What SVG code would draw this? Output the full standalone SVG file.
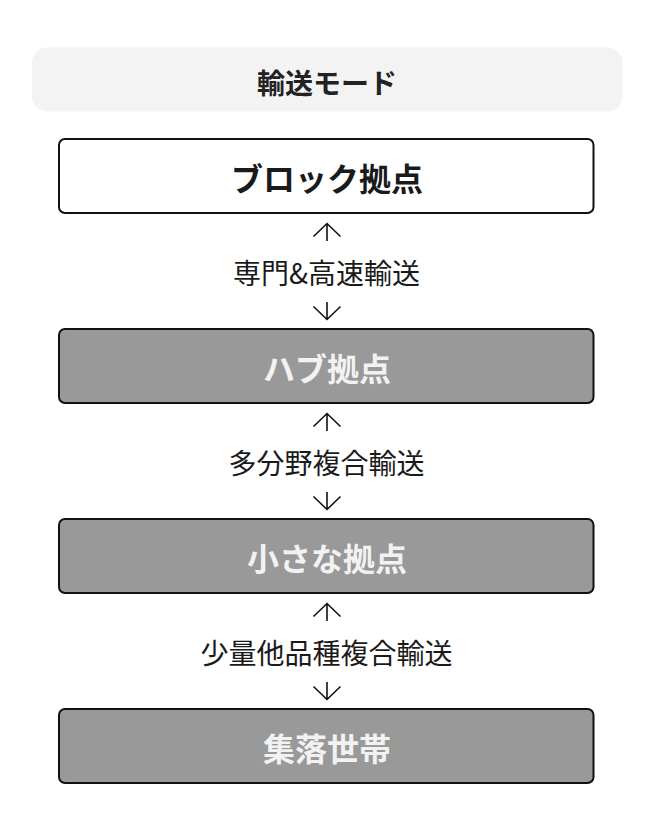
<svg xmlns="http://www.w3.org/2000/svg" width="654" height="818" viewBox="0 0 654 818">
<style>
text{font-family:"Noto Sans CJK JP","Noto Sans",sans-serif;text-anchor:middle;dominant-baseline:central}
.hdr{font-size:28px;font-weight:700;fill:#222}
.ttl{font-size:32px;font-weight:700}
.box{stroke:#111;stroke-width:2}
.white{fill:#ffffff}
.gray{fill:#999999}
.dark{fill:#1a1a1a}
.light{fill:#f2f2f2}
.lbl{font-size:28px;font-weight:400;fill:#1a1a1a}
.arr{fill:none;stroke:#111;stroke-width:1.6}
</style>
<rect width="654" height="818" fill="#ffffff"/>
<g id="header">
<rect x="32" y="47.5" width="590.5" height="64" rx="15" fill="#f3f3f3"/>
<text class="hdr" x="327" y="82">輸送モード</text>
</g>
<g id="node-block">
<rect class="box white" x="59" y="139" width="534.5" height="74" rx="6"/>
<text class="ttl dark" x="327" y="176.5">ブロック拠点</text>
</g>
<g id="node-hub">
<rect class="box gray" x="59" y="329" width="534.5" height="74" rx="6"/>
<text class="ttl light" x="327" y="366.5">ハブ拠点</text>
</g>
<g id="node-small">
<rect class="box gray" x="59" y="519" width="534.5" height="74" rx="6"/>
<text class="ttl light" x="327" y="556.5">小さな拠点</text>
</g>
<g id="node-village">
<rect class="box gray" x="59" y="709" width="534.5" height="74" rx="6"/>
<text class="ttl light" x="327" y="746.5">集落世帯</text>
</g>
<g id="connectors">
<path class="arr" d="M327 241V224M313.5 236.5L327 223.5L340.5 236.5"/>
<path class="arr" d="M327 302V319M313.5 306.5L327 319.5L340.5 306.5"/>
<text class="lbl" x="326.5" y="271.5">専門&amp;高速輸送</text>
<path class="arr" d="M327 431V414M313.5 426.5L327 413.5L340.5 426.5"/>
<path class="arr" d="M327 492V509M313.5 496.5L327 509.5L340.5 496.5"/>
<text class="lbl" x="326.5" y="461.5">多分野複合輸送</text>
<path class="arr" d="M327 621V604M313.5 616.5L327 603.5L340.5 616.5"/>
<path class="arr" d="M327 682V699M313.5 686.5L327 699.5L340.5 686.5"/>
<text class="lbl" x="326.5" y="651.5">少量他品種複合輸送</text>
</g>
</svg>
